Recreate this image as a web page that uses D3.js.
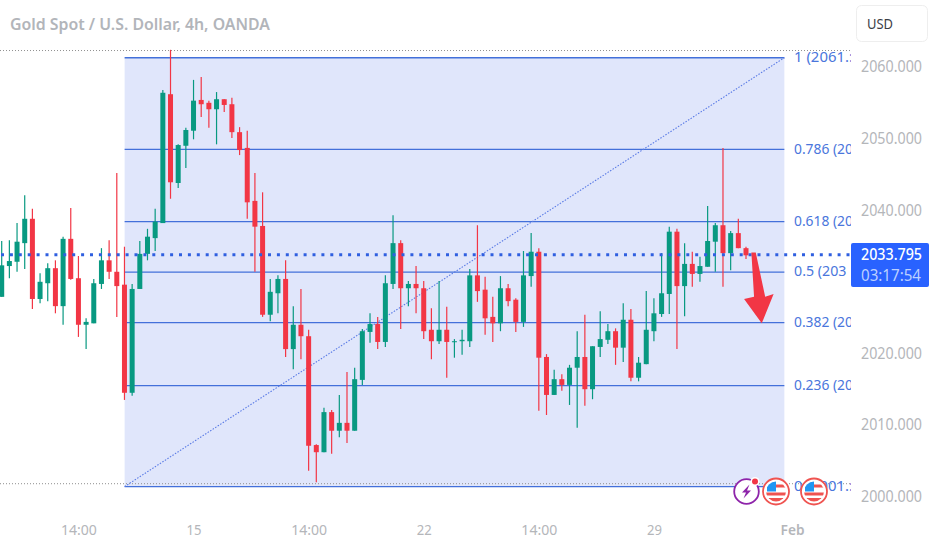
<!DOCTYPE html>
<html><head><meta charset="utf-8">
<script src="https://cdnjs.cloudflare.com/ajax/libs/d3/7.8.5/d3.min.js"></script>
<style>html,body{margin:0;padding:0;background:#fff;overflow:hidden}svg{display:block}text{font-family:"Noto Sans",sans-serif}</style>
</head><body><svg id="c" width="932" height="550"></svg>
<script>
const opens=[2027.9,2032.2,2032.8,2035.4,2038.8,2027.6,2029.8,2031.9,2026.6,2036.0,
2030.5,2024.0,2024.2,2029.7,2033.0,2031.4,2029.6,2014.5,2029.0,2033.9,
2036.1,2038.2,2056.2,2043.8,2049.0,2051.1,2055.4,2055.0,2054.1,2055.5,
2054.8,2050.9,2048.7,2041.3,2037.8,2025.4,2028.4,2030.4,2020.6,2024.0,
2022.4,2007.2,2006.2,2011.8,2009.2,2010.3,2009.2,2016.3,2023.0,2024.1,
2021.6,2029.7,2035.4,2029.1,2029.7,2029.1,2023.3,2021.7,2023.3,2021.6,
2021.7,2021.7,2030.9,2028.9,2025.1,2024.2,2029.1,2027.5,2024.4,2030.8,
2034.2,2019.5,2014.2,2016.4,2015.6,2018.0,2019.5,2015.0,2020.9,2021.9,
2023.1,2020.8,2024.7,2016.6,2018.5,2023.1,2025.5,2028.3,2037.0,2029.4,
2032.5,2031.1,2032.1,2035.6,2037.9,2034.0,2036.8,2034.7];
const highs=[2035.7,2035.8,2038.2,2042.1,2040.2,2031.2,2032.6,2033.0,2036.3,2040.3,
2033.6,2024.9,2030.4,2034.7,2035.8,2045.2,2034.9,2029.7,2035.7,2037.4,
2040.2,2056.8,2062.4,2049.2,2051.5,2058.2,2058.6,2055.3,2056.5,2055.5,
2055.7,2051.6,2051.1,2045.2,2042.5,2030.4,2030.9,2033.0,2026.6,2029.0,
2023.3,2007.3,2012.4,2012.1,2014.2,2017.4,2018.0,2023.4,2025.6,2025.1,
2030.9,2039.3,2035.8,2030.1,2032.2,2030.1,2026.3,2030.1,2026.5,2022.0,
2023.3,2031.8,2037.9,2030.7,2027.9,2030.8,2029.7,2027.7,2034.3,2036.8,
2034.7,2019.9,2017.7,2017.1,2018.4,2023.1,2025.4,2021.0,2025.9,2024.1,
2023.5,2027.0,2026.2,2019.5,2028.7,2027.7,2034.0,2037.7,2037.4,2035.4,
2034.2,2033.5,2040.6,2038.2,2048.7,2037.1,2038.8,2034.9];
const lows=[2027.9,2030.5,2031.4,2031.8,2026.2,2027.0,2027.3,2025.6,2024.0,2030.3,
2022.3,2020.6,2024.2,2029.0,2030.4,2025.1,2013.5,2014.1,2029.0,2033.0,
2034.3,2038.2,2041.6,2043.1,2045.9,2049.9,2053.0,2051.5,2049.2,2053.7,
2050.1,2047.7,2038.8,2031.4,2025.1,2024.5,2025.6,2019.5,2017.8,2019.2,
2003.6,2002.0,2006.2,2006.0,2008.3,2007.5,2009.2,2015.6,2021.5,2020.6,
2020.9,2029.0,2023.4,2026.6,2025.6,2022.0,2019.2,2021.3,2016.6,2019.4,
2019.8,2020.9,2027.2,2022.6,2021.6,2023.1,2026.6,2023.0,2023.7,2029.3,
2012.0,2011.4,2014.2,2014.8,2012.8,2009.6,2012.7,2013.6,2019.5,2021.3,
2018.4,2018.8,2016.1,2016.1,2018.5,2021.7,2025.1,2025.5,2020.6,2025.2,
2029.3,2030.0,2032.1,2031.4,2029.3,2031.6,2034.7,2033.2];
const closes=[2032.3,2032.9,2035.6,2038.8,2027.6,2030.0,2031.9,2026.6,2036.0,2030.4,
2024.0,2024.4,2029.8,2033.0,2031.4,2029.4,2014.5,2029.0,2033.9,2036.3,
2038.4,2056.4,2043.9,2049.1,2051.2,2055.3,2054.8,2054.1,2055.5,2054.7,
2050.9,2048.4,2041.1,2037.7,2025.4,2028.6,2030.4,2020.6,2024.0,2022.4,
2007.1,2006.2,2011.8,2009.2,2010.3,2009.2,2016.4,2023.1,2024.1,2021.6,
2029.8,2035.4,2029.1,2029.7,2029.1,2023.1,2021.7,2023.3,2021.6,2021.7,
2021.9,2030.9,2028.7,2024.9,2024.2,2029.1,2027.3,2024.4,2030.9,2034.2,
2019.4,2014.2,2016.4,2015.6,2018.0,2019.5,2015.0,2021.0,2022.0,2023.1,
2020.8,2024.7,2016.6,2018.7,2023.3,2025.6,2028.4,2037.0,2029.4,2032.5,
2031.1,2032.2,2035.7,2037.9,2034.0,2036.8,2034.7,2033.7];

const fibPrices=[2061.3,2048.5,2038.4,2031.35,2024.3,2015.5,2001.4];
const fibLabels=["1 (2061.:","0.786 (20","0.618 (20","0.5 (203","0.382 (20","0.236 (20","0 (2001.:"];
const priceTicks=[2000,2010,2020,2040,2050,2060];
const timeTicks=[10,25,40,55,70,85,103];
const timeLabels=["14:00","15","14:00","22","14:00","29","Feb"];
const fibStartIdx=16.02, fibEndIdx=102;
const lastPrice=2033.795, lastLabel="2033.795", countdown="03:17:54", currency="USD";
const title="Gold Spot / U.S. Dollar, 4h, OANDA";
const gridHighPrice=2062.3, gridLowPrice=2001.8;
const arrowIdx=[97.7,98.27,99.5,100.6,99.05,96.75,98.05];
const arrowPrice=[2034.1,2034.1,2027.9,2028.3,2024.2,2027.6,2027.9];

const GREEN="#089981",RED="#f23645",BLUE="#4370da";
const x=d3.scaleLinear().domain([0,97]).range([1.7,746]);
const y=d3.scaleLinear().domain([2000,2060]).range([496.6,67]);
const svg=d3.select("#c");
const defs=svg.append("defs");
defs.append("clipPath").attr("id","plot").append("rect").attr("x",0).attr("y",0).attr("width",851).attr("height",550);
defs.append("clipPath").attr("id","flagClip").append("circle").attr("r",10);

const plot=svg.append("g").attr("clip-path","url(#plot)");
plot.append("rect").attr("x",x(fibStartIdx)).attr("y",y(fibPrices[0]))
 .attr("width",x(fibEndIdx)-x(fibStartIdx)).attr("height",y(fibPrices[6])-y(fibPrices[0])).attr("fill","#e0e6fb");
plot.selectAll(".grid").data([gridHighPrice,gridLowPrice]).join("line")
 .attr("x1",0).attr("x2",851).attr("y1",d=>y(d)).attr("y2",d=>y(d))
 .attr("stroke","#8f8f8f").attr("stroke-width",1).attr("stroke-dasharray","1 2");
plot.selectAll(".fib").data(fibPrices).join("line")
 .attr("x1",x(fibStartIdx)).attr("x2",x(fibEndIdx)).attr("y1",d=>y(d)).attr("y2",d=>y(d))
 .attr("stroke",BLUE).attr("stroke-width",1.4);
plot.append("line").attr("x1",x(fibStartIdx)).attr("y1",y(fibPrices[6])).attr("x2",x(fibEndIdx)).attr("y2",y(fibPrices[0]))
 .attr("stroke","#5a7be6").attr("stroke-width",1.1).attr("stroke-dasharray","1.5 1.5");
plot.selectAll(".fl").data(fibLabels).join("text")
 .attr("x",794).attr("y",(d,i)=>y(fibPrices[i])-1).attr("dy","0.35em")
 .attr("font-size",15).attr("textLength",(d,i)=>d.length*6.55).attr("lengthAdjust","spacingAndGlyphs")
 .attr("fill","#4a76dc").text(d=>d);
const idx=d3.range(opens.length);
const col=i=>closes[i]>=opens[i]?GREEN:RED;
plot.selectAll(".w").data(idx).join("line")
 .attr("x1",i=>x(i)).attr("x2",i=>x(i)).attr("y1",i=>y(highs[i])).attr("y2",i=>y(lows[i]))
 .attr("stroke",col).attr("stroke-width",1.2);
plot.selectAll(".b").data(idx).join("rect")
 .attr("x",i=>x(i)-2.5).attr("width",5)
 .attr("y",i=>y(Math.max(opens[i],closes[i])))
 .attr("height",i=>Math.max(1,Math.abs(y(opens[i])-y(closes[i]))))
 .attr("fill",col);
plot.append("line").attr("x1",1).attr("x2",851).attr("y1",y(lastPrice)).attr("y2",y(lastPrice))
 .attr("stroke","#2f5fe0").attr("stroke-width",3).attr("stroke-dasharray","3 5.9");
plot.append("polygon").attr("points",arrowIdx.map((d,i)=>x(d)+","+y(arrowPrice[i])).join(" ")).attr("fill",RED);

const pa=svg.append("g").attr("transform","translate(861,0)")
 .call(d3.axisRight(y).tickValues(priceTicks).tickSize(0).tickPadding(0).tickFormat(d=>d3.format(".3f")(d)));
pa.select(".domain").remove();
pa.selectAll("text").attr("fill","#b4b6ba").attr("font-size",15.5).attr("textLength",61).attr("lengthAdjust","spacingAndGlyphs").style("font-family",'"Noto Sans",sans-serif');
const ta=svg.append("g").attr("transform","translate(0,524)")
 .call(d3.axisBottom(x).tickValues(timeTicks).tickSize(0).tickPadding(0).tickFormat((d,i)=>timeLabels[i]));
ta.select(".domain").remove();
ta.selectAll("text").attr("fill","#b4b6ba").attr("font-size",15).attr("textLength",(d,i)=>({"14:00":36,"15":15,"22":15,"29":15,"Feb":24})[timeLabels[i]]).attr("lengthAdjust","spacingAndGlyphs").style("font-family",'"Noto Sans",sans-serif');
ta.selectAll("text").filter((d,i)=>timeLabels[i]==="Feb").attr("font-weight",600);

svg.append("text").attr("x",10).attr("y",24).attr("dy","0.35em").attr("font-size",16).attr("font-weight",600)
 .attr("textLength",260).attr("lengthAdjust","spacingAndGlyphs").attr("fill","#b2b5ba").text(title);
svg.append("rect").attr("x",856.5).attr("y",5.5).attr("width",71).attr("height",36).attr("rx",5)
 .attr("fill","#fff").attr("stroke","#eeeeee");
svg.append("text").attr("x",867).attr("y",24).attr("dy","0.35em").attr("font-size",15).attr("textLength",26).attr("lengthAdjust","spacingAndGlyphs").attr("fill","#3a3d45").text(currency);
svg.append("rect").attr("x",851).attr("y",243).attr("width",78).attr("height",44).attr("rx",2).attr("fill","#2962ff");
svg.append("text").attr("x",861).attr("y",255).attr("dy","0.35em").attr("font-size",15.5).attr("font-weight",500).attr("textLength",61).attr("lengthAdjust","spacingAndGlyphs").attr("fill","#fff").text(lastLabel);
svg.append("text").attr("x",861).attr("y",276).attr("dy","0.35em").attr("font-size",15.5).attr("textLength",60).attr("lengthAdjust","spacingAndGlyphs").attr("fill","#bcd0ff").text(countdown);

const bolt=svg.append("g").attr("transform","translate(746.5,491.5)");
bolt.append("circle").attr("r",12.3).attr("fill","#fff").attr("stroke","#8e24aa").attr("stroke-width",1.8);
bolt.append("path").attr("d","M3,-7 L-4.5,1 L-0.5,1 L-3,7 L4.5,-1 L0.5,-1 Z").attr("fill","#8e24aa");
bolt.append("circle").attr("cx",8.5).attr("cy",-10).attr("r",4.5).attr("fill","#fff");
bolt.append("circle").attr("cx",8.5).attr("cy",-10).attr("r",3).attr("fill","#f23645");
[776,814].forEach(cx=>{
 const g=svg.append("g").attr("transform",`translate(${cx},491.5)`);
 g.append("circle").attr("r",13).attr("fill","#fff").attr("stroke","#ef5350").attr("stroke-width",1.8);
 const f=g.append("g").attr("clip-path","url(#flagClip)");
 f.append("rect").attr("x",-10).attr("y",-10).attr("width",20).attr("height",20).attr("fill","#fff");
 f.append("rect").attr("x",-1).attr("y",-7).attr("width",12).attr("height",3).attr("fill","#ef5350");
 f.append("rect").attr("x",-11).attr("y",1).attr("width",22).attr("height",3).attr("fill","#ef5350");
 f.append("rect").attr("x",-11).attr("y",6.5).attr("width",22).attr("height",4).attr("fill","#ef5350");
 f.append("rect").attr("x",-9).attr("y",-11).attr("width",9).attr("height",11).attr("fill","#2196f3");
});
</script></body></html>
